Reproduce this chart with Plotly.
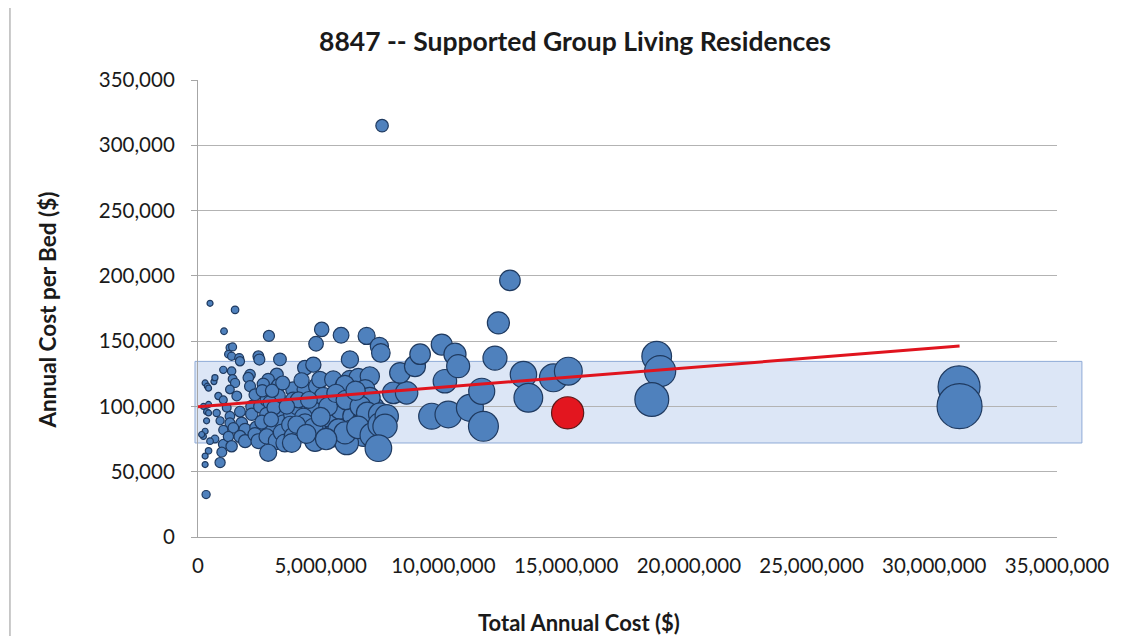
import plotly.graph_objects as go

# facility data: total annual cost ($), annual cost per bed ($), beds (bubble size)
total_cost = [
    490000, 290000, 380000, 430000, 650000, 690000, 830000, 220000, 430000, 350000,
    430000, 760000, 1030000, 350000, 900000, 290000, 220000, 150000, 690000, 490000,
    1030000, 430000, 290000, 970000, 290000, 900000, 330000, 1030000, 1060000, 1030000,
    1510000, 1300000, 1410000, 1240000, 1370000, 1680000, 1710000, 1370000, 1410000, 1510000,
    1300000, 1580000, 1170000, 1300000, 1710000, 1300000, 1780000, 1440000, 1920000, 1240000,
    1710000, 1370000, 1920000, 2460000, 2500000, 2120000, 2050000, 2120000, 2320000, 2190000,
    2190000, 2390000, 2320000, 2460000, 2530000, 2890000, 3340000, 3210000, 2860000, 2660000,
    3270000, 2800000, 3270000, 2930000, 2800000, 3270000, 2930000, 3480000, 2800000, 3210000,
    2860000, 3410000, 3540000, 3880000, 3880000, 3820000, 3820000, 3750000, 3880000, 3820000,
    2600000, 3100000, 4360000, 4700000, 4360000, 4840000, 4970000, 4020000, 4770000, 4560000,
    4700000, 5100000, 5100000, 5380000, 5450000, 5040000, 4810000, 4300000, 4090000, 4360000,
    4770000, 4700000, 5830000, 6870000, 6190000, 5510000, 6190000, 6530000, 7000000, 5920000,
    6810000, 5990000, 6260000, 7150000, 5790000, 6330000, 6740000, 5720000, 6260000, 7000000,
    6740000, 6060000, 5990000, 7000000, 2620000, 3020000, 3620000, 4220000, 4520000, 5300000,
    5620000, 6020000, 6620000, 6900000, 6420000, 5000000, 4020000, 4420000, 5220000, 6520000,
    7100000, 3450000, 2980000, 7410000, 7410000, 7390000, 7450000, 7500000, 7690000,
    7620000, 7350000, 7960000, 8500000, 8230000, 8840000, 9050000, 9930000, 10060000, 9520000,
    10200000, 10470000, 10600000, 11080000, 11560000, 11630000, 12100000, 12240000, 12710000, 13260000,
    13460000, 14480000, 15090000, 18690000, 18830000, 18490000, 31010000, 31030000,
]
cost_per_bed = [
    179000, 118000, 115500, 114000, 119000, 122000, 108000, 100000, 101500, 96000,
    95000, 95000, 105000, 89000, 89000, 81000, 77000, 78500, 75000, 73400,
    71000, 66000, 62000, 65000, 55500, 57000, 32500, 128000, 157600, 82000,
    174000, 145000, 145600, 140000, 138400, 137000, 134600, 127000, 121000, 118000,
    113000, 108000, 99000, 92500, 96000, 87400, 87400, 83600, 82300, 77000,
    77000, 69500, 73400, 138400, 135900, 124400, 122000, 115500, 109000, 100000,
    94000, 83600, 78500, 73400, 100000, 154000, 136000, 124400, 120600, 117000,
    116000, 105000, 108000, 103000, 94000, 94000, 85000, 87400, 77000, 73400,
    64500, 80000, 72000, 113000, 105000, 97600, 94000, 86000, 77000, 72000,
    88000, 99000, 129600, 132000, 113000, 115500, 120600, 100000, 97600, 87400,
    76000, 107800, 84800, 91300, 77000, 159000, 148000, 92000, 105000, 87400,
    73400, 83600, 154500, 154000, 136000, 120600, 120600, 122000, 123000, 114000,
    113000, 116800, 100000, 99000, 97600, 92500, 88700, 82300, 81000, 84800,
    78500, 72000, 79800, 106600, 112000, 112000, 100000, 120000, 105000, 100000,
    110000, 105000, 100000, 95000, 112000, 92000, 86000, 79000, 75000, 84000,
    78000, 118000, 90000, 94000, 86000, 146000, 141000, 315000, 92500,
    84800, 68000, 110400, 110400, 125700, 130800, 140000, 147400, 119300, 92500,
    93800, 140000, 130800, 98900, 111600, 84800, 137000, 164000, 196500, 124400,
    106600, 121900, 127000, 138400, 127000, 105300, 115000, 100200,
]
beds = [
    2.7, 2.5, 3.3, 3.8, 5.5, 5.7, 7.7, 2.2, 4.2, 3.6,
    4.5, 8.0, 9.8, 3.9, 10.1, 3.6, 2.9, 1.9, 9.2, 6.7,
    14.5, 6.5, 4.7, 14.9, 5.2, 15.8, 10.2, 8.0, 6.7, 12.6,
    8.7, 9.0, 9.7, 8.9, 9.9, 12.3, 12.7, 10.8, 11.7, 12.8,
    11.5, 14.6, 11.8, 14.1, 17.8, 14.9, 20.4, 17.2, 23.3, 16.1,
    22.2, 19.7, 26.2, 17.8, 18.4, 17.0, 16.8, 18.4, 21.3, 21.9,
    23.3, 28.6, 29.6, 33.5, 25.3, 18.8, 24.6, 25.8, 23.7, 22.7,
    28.2, 26.7, 30.3, 28.4, 29.8, 34.8, 34.5, 39.8, 36.4, 43.7,
    44.3, 42.6, 49.2, 34.3, 37.0, 39.1, 40.6, 43.6, 50.4, 53.1,
    29.5, 31.3, 33.6, 35.6, 38.6, 41.9, 41.2, 40.2, 48.9, 52.2,
    61.8, 47.3, 60.1, 58.9, 70.8, 31.7, 32.5, 46.7, 39.0, 49.9,
    65.0, 56.2, 37.7, 44.6, 45.5, 45.7, 51.3, 53.5, 56.9, 51.9,
    60.3, 51.3, 62.6, 72.2, 59.3, 68.4, 76.0, 69.5, 77.3, 82.5,
    85.9, 84.2, 75.1, 65.7, 23.4, 27.0, 36.2, 35.2, 43.0, 53.0,
    51.1, 57.3, 66.2, 72.6, 57.3, 54.3, 46.7, 55.9, 69.6, 77.6,
    91.0, 29.2, 33.1, 78.8, 86.2, 50.6, 52.8, 23.8, 83.1,
    89.9, 108.1, 72.1, 77.0, 65.5, 67.6, 64.6, 67.4, 84.3, 102.9,
    108.7, 74.8, 81.0, 112.0, 103.6, 137.1, 88.3, 74.6, 64.7, 106.6,
    126.3, 118.8, 118.8, 135.0, 148.3, 175.6, 269.7, 309.7,
]

# highlighted facility
hl_cost = [15060000]
hl_per_bed = [95100]
hl_beds = [158.4]

# linear trend line end points
trend_x = [0, 31030000]
trend_y = [99800, 146200]

# shaded typical range
band_low = 72000
band_high = 134500

title = "8847 -- Supported Group Living Residences"
font = "Lato, 'Open Sans', sans-serif"
sref = 2.0 * 310 / 45 ** 2

fig = go.Figure()

fig.add_trace(go.Scatter(
    x=total_cost, y=cost_per_bed, mode="markers",
    marker=dict(size=beds, sizemode="area", sizeref=sref, sizemin=3,
                color="#4f81bd", opacity=1,
                line=dict(color="#1f3a60", width=1.2)),
    showlegend=False, hoverinfo="x+y"))

fig.add_trace(go.Scatter(
    x=hl_cost, y=hl_per_bed, mode="markers",
    marker=dict(size=hl_beds, sizemode="area", sizeref=sref, opacity=1,
                color="#e3161f", line=dict(color="#5a1a1a", width=1.2)),
    showlegend=False))

fig.add_trace(go.Scatter(
    x=trend_x, y=trend_y, mode="lines",
    line=dict(color="#e0141e", width=3), showlegend=False, hoverinfo="skip"))

# band (extends a bit past the right edge of the plot area, like the original)
fig.add_shape(type="rect", xref="paper", yref="y",
              x0=-0.0035, x1=1.029, y0=band_low, y1=band_high,
              fillcolor="rgba(205,220,242,0.7)", line=dict(color="#8eaad6", width=1),
              layer="below")

# outer chart border
fig.add_shape(type="rect", xref="paper", yref="paper",
              x0=-0.2189, x1=1.0815, y0=-0.23, y1=1.162,
              line=dict(color="#a6a6a6", width=1.2), fillcolor="rgba(0,0,0,0)")

tick_font = dict(family=font, size=20.5, color="#1a1a1a")
fig.update_xaxes(range=[0, 35000000], dtick=5000000, tickformat=",",
                 showgrid=False, zeroline=False, showline=True,
                 linecolor="#a6a6a6", linewidth=1.2, ticks="",
                 ticklabelstandoff=10, tickfont=tick_font)
fig.update_yaxes(range=[0, 350000], dtick=50000, tickformat=",",
                 showgrid=True, gridcolor="#b3b3b3", gridwidth=1.2,
                 zeroline=False, showline=True, linecolor="#a6a6a6", linewidth=1.2,
                 ticks="outside", ticklen=6, tickcolor="#a6a6a6",
                 ticklabelstandoff=12, tickfont=tick_font)

fig.add_annotation(text="<b>Annual Cost per Bed ($)</b>", xref="paper", yref="paper",
                   x=-0.175, y=0.497, xanchor="center", yanchor="middle",
                   textangle=-90, showarrow=False,
                   font=dict(family=font, size=22.5, color="#1a1a1a"))
fig.add_annotation(text="<b>Total Annual Cost ($)</b>", xref="paper", yref="paper",
                   x=0.4435, y=-0.186, xanchor="center", yanchor="middle",
                   showarrow=False,
                   font=dict(family=font, size=22, color="#1a1a1a"))

# page body has an 8px margin, so the figure is 8px smaller and margins shifted
fig.update_layout(
    width=1124, height=628,
    margin=dict(l=190, r=75, t=72, b=99),
    title=dict(text="<b>" + title + "</b>", x=567 / 1124, xanchor="center",
               xref="container", y=1 - 34 / 628, yanchor="middle",
               font=dict(family=font, size=26.5, color="#1a1a1a")),
    paper_bgcolor="white", plot_bgcolor="rgba(0,0,0,0)",
)

fig.write_html("out.html")
